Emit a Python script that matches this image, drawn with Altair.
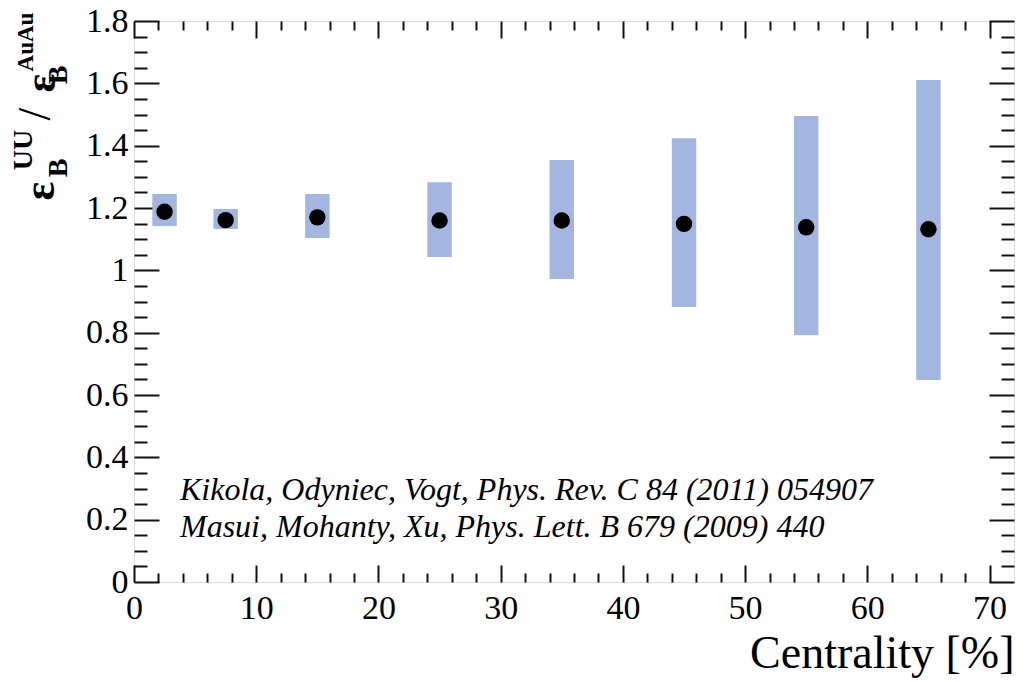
import altair as alt
import pandas as pd

# ---- data ----
centrality = [2.5, 7.5, 15, 25, 35, 45, 55, 65]
ratio = [1.188, 1.161, 1.170, 1.160, 1.160, 1.149, 1.138, 1.132]
band_lo = [1.142, 1.133, 1.104, 1.043, 0.972, 0.882, 0.792, 0.648]
band_hi = [1.245, 1.197, 1.245, 1.283, 1.354, 1.424, 1.495, 1.611]
band_half_width = 1.0

x_major = [0, 10, 20, 30, 40, 50, 60, 70]
x_minor = [v for v in range(0, 72, 2) if v % 10 != 0]
y_major = [0, 0.2, 0.4, 0.6, 0.8, 1.0, 1.2, 1.4, 1.6, 1.8]
y_minor = [round(i * 0.05, 2) for i in range(0, 37) if i % 4 != 0]

ref_lines = [
    "Kikola, Odyniec, Vogt, Phys. Rev. C 84 (2011) 054907",
    "Masui, Mohanty, Xu, Phys. Lett. B 679 (2009) 440",
]

df = pd.DataFrame({
    "c": centrality,
    "r": ratio,
    "lo": band_lo,
    "hi": band_hi,
    "xl": [c - band_half_width for c in centrality],
    "xr": [c + band_half_width for c in centrality],
})

W, H = 880, 561
FONT = "Liberation Serif"
xs = alt.Scale(domain=[0, 72], nice=False, zero=False)
ys = alt.Scale(domain=[0, 1.8], nice=False, zero=False)

MAJ_X, MIN_X = 17, 9
MAJ_Y, MIN_Y = 25, 13


def tick_axis(orient, values, size):
    return alt.Axis(
        orient=orient, values=values, tickSize=size, offset=-size,
        labels=False, domain=False, grid=False, title=None,
        tickColor="#111", tickWidth=2,
    )


base = alt.Chart(df)

boxes = base.mark_rect(color="#a2b6df").encode(
    x=alt.X("xl:Q", scale=xs, axis=alt.Axis(
        orient="bottom", values=x_major, ticks=False, domain=False, grid=False,
        labelFont=FONT, labelFontSize=34, labelColor="#000", labelPadding=9,
        labelFlush=False, labelOverlap=False,
        title="Centrality [%]", titleFont=FONT, titleFontSize=46,
        titleFontWeight="normal", titleColor="#000", titleAnchor="end",
        titlePadding=6)),
    x2="xr:Q",
    y=alt.Y("lo:Q", scale=ys, axis=alt.Axis(
        orient="left", values=y_major, ticks=False, domain=False, grid=False,
        format=".1~f", labelFont=FONT, labelFontSize=34, labelColor="#000",
        labelPadding=6, labelFlush=False, labelOverlap=False, title=None)),
    y2="hi:Q",
)

points = base.mark_circle(color="black", size=270, opacity=1).encode(
    x=alt.X("c:Q", scale=xs, axis=tick_axis("bottom", x_major, MAJ_X)),
    y=alt.Y("r:Q", scale=ys, axis=tick_axis("left", y_major, MAJ_Y)),
)

inv1 = base.mark_point(opacity=0).encode(
    x=alt.X("c:Q", scale=xs, axis=tick_axis("bottom", x_minor, MIN_X)),
    y=alt.Y("r:Q", scale=ys, axis=tick_axis("left", y_minor, MIN_Y)),
)
inv2 = base.mark_point(opacity=0).encode(
    x=alt.X("c:Q", scale=xs, axis=tick_axis("top", x_major, MAJ_X)),
    y=alt.Y("r:Q", scale=ys, axis=tick_axis("right", y_major, MAJ_Y)),
)
inv3 = base.mark_point(opacity=0).encode(
    x=alt.X("c:Q", scale=xs, axis=tick_axis("top", x_minor, MIN_X)),
    y=alt.Y("r:Q", scale=ys, axis=tick_axis("right", y_minor, MIN_Y)),
)

one = alt.Data(values=[{"k": 1}])


def txt(text, x, y, size, **kw):
    return alt.Chart(one).mark_text(
        text=text, font=FONT, fontSize=size, color="black", **kw
    ).encode(x=alt.value(x), y=alt.value(y))


notes = [
    txt(ref_lines[0], 46, 479, 32, fontStyle="italic", align="left", baseline="alphabetic"),
    txt(ref_lines[1], 46, 516, 32, fontStyle="italic", align="left", baseline="alphabetic"),
]

# rotated y-axis title: eps_B^UU / eps_B^AuAu
rot = dict(angle=270, align="center", baseline="middle", fontWeight="bold")
ytitle = [
    txt("ε", -93, 170, 44, **rot),
    txt("B", -75, 147, 28, **rot),
    txt("UU", -110, 129, 28, **rot),
    txt("/", -98, 93, 46, angle=270, align="center", baseline="middle"),
    txt("ε", -92, 62, 44, **rot),
    txt("B", -75, 54, 28, **rot),
    txt("AuAu", -108, 21, 23, **rot),
]

chart = alt.layer(boxes, points, inv1, inv2, inv3, *notes, *ytitle).resolve_axis(
    x="independent", y="independent"
).properties(
    width=W, height=H,
    autosize=alt.AutoSizeParams(type="none"),
    padding={"left": 126, "top": 13, "right": 3, "bottom": 100},
).configure_view(stroke="black", strokeWidth=2).configure(background="white")

chart.save("out.html", embed_options={"renderer": "svg", "actions": False})
